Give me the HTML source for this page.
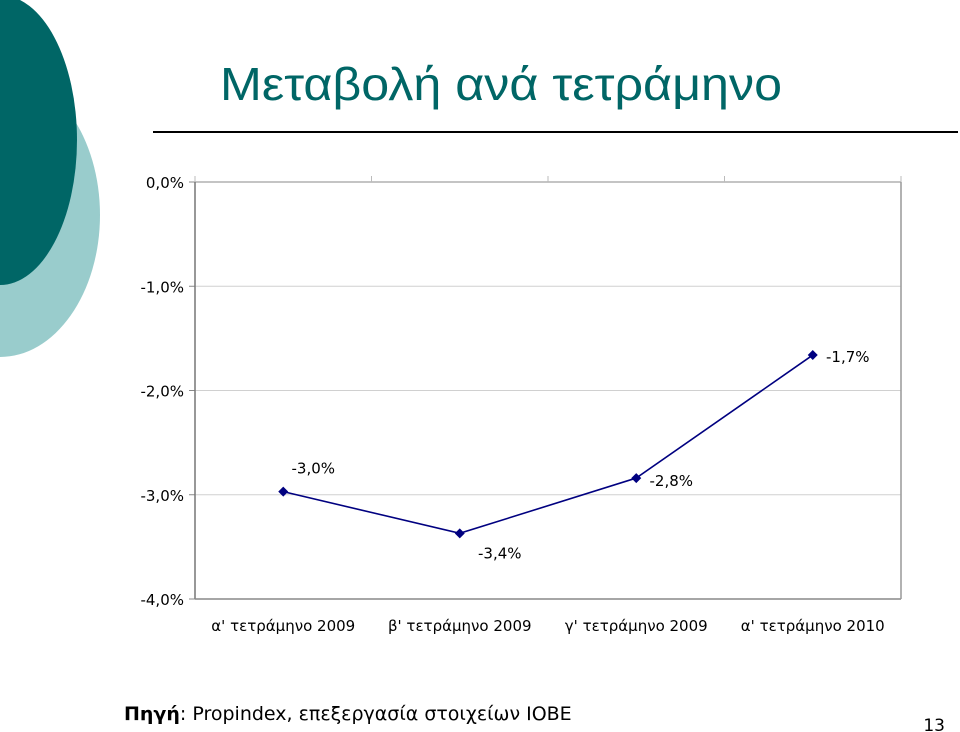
<!DOCTYPE html>
<html><head><meta charset="utf-8">
<style>
html,body{margin:0;padding:0;background:#fff;}
svg{display:block;}
text{font-family:"DejaVu Sans","Liberation Sans",sans-serif;}
</style></head>
<body>
<svg id="chart" width="960" height="732" viewBox="0 0 960 732">
  <ellipse cx="0" cy="215" rx="100" ry="142" fill="#99cccc"/>
  <ellipse cx="0" cy="140" rx="77" ry="145" fill="#006666"/>
  <text x="501" y="100" text-anchor="middle" font-size="46" fill="#006666" textLength="562" lengthAdjust="spacingAndGlyphs" style='font-family:"Liberation Sans",sans-serif'>Μεταβολή ανά τετράμηνο</text>
  <line x1="153" y1="132" x2="958" y2="132" stroke="#000" stroke-width="2"/>
  <g id="plot"></g>
  <text x="124" y="720" font-size="19" fill="#000"><tspan font-weight="bold">Πηγή</tspan>: Propindex, επεξεργασία στοιχείων ΙΟΒΕ</text>
  <text x="945" y="731" text-anchor="end" font-size="17" fill="#000">13</text>
</svg>
<script>
const categories = ["α' τετράμηνο 2009","β' τετράμηνο 2009","γ' τετράμηνο 2009","α' τετράμηνο 2010"];
const values = [-2.97, -3.37, -2.84, -1.66];
const valueLabels = ["-3,0%","-3,4%","-2,8%","-1,7%"];
const yTicks = [0, -1, -2, -3, -4];
const yTickLabels = ["0,0%","-1,0%","-2,0%","-3,0%","-4,0%"];

const L=195, R=901, T=182, B=599;
const NS="http://www.w3.org/2000/svg";
const g=document.getElementById('plot');
function y(v){ return T + (0 - v)/(0 - (-4)) * (B - T); }
const bw=(R-L)/categories.length;
function x(i){ return L + bw*(i+0.5); }
function mk(tag, attrs){ const e=document.createElementNS(NS,tag); for(const k in attrs) e.setAttribute(k,attrs[k]); g.appendChild(e); return e; }

yTicks.forEach((t,i)=>{
  const gl=mk('line',{x1:L,x2:R,y1:y(t),y2:y(t),stroke:(t===0?'#888':'#d0d0d0'),'stroke-width':1});
  
  
  const tk=mk('line',{x1:L-6,x2:L,y1:y(t),y2:y(t),stroke:'#888'});
  
  
  const tx=mk('text',{x:L-11,y:y(t)+6,'text-anchor':'end','font-size':15,fill:'#000'});
  tx.textContent=yTickLabels[i];
  
  
});
for(let i=0;i<=categories.length;i++){
  const tk=mk('line',{x1:L+bw*i,x2:L+bw*i,y1:T-6,y2:T,stroke:'#bbb'});
  
  
}
const ax=mk('line',{x1:L,x2:L,y1:T,y2:B,stroke:'#777','stroke-width':1.5});


const bx=mk('line',{x1:L,x2:R,y1:B,y2:B,stroke:'#888','stroke-width':1.5});


const rx=mk('line',{x1:R,x2:R,y1:T,y2:B,stroke:'#999','stroke-width':1.5});



categories.forEach((c,i)=>{
  const t=mk('text',{x:x(i),y:631,'text-anchor':'middle','font-size':15,fill:'#000'});
  t.textContent=c;
  
  
});

const pts=values.map((v,i)=>x(i)+','+y(v)).join(' ');
const line=mk('polyline',{points:pts,fill:'none',stroke:'#000080','stroke-width':1.6});



const offs=[[30,-18],[40,25],[35,8],[35,7]];
values.forEach((v,i)=>{
  const cx=x(i), cy=y(v);
  const m=mk('polygon',{points:`${cx},${cy-5} ${cx+5},${cy} ${cx},${cy+5} ${cx-5},${cy}`,fill:'#000080'});
  
  
  const t=mk('text',{x:cx+offs[i][0],y:cy+offs[i][1],'text-anchor':'middle','font-size':15,fill:'#000'});
  t.textContent=valueLabels[i];
  
  
});
</script>
</body></html>
